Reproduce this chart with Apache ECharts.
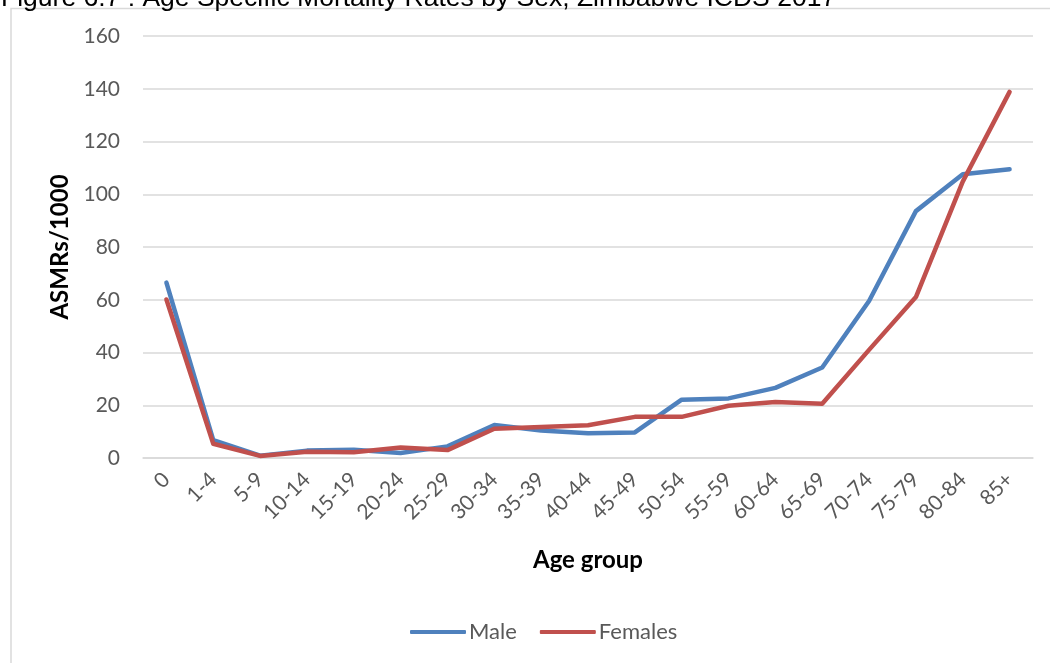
<!DOCTYPE html>
<html>
<head>
<meta charset="utf-8">
<script src="https://cdn.jsdelivr.net/npm/echarts@6/dist/echarts.min.js"></script>
<style>
  html, body { margin: 0; padding: 0; background: #fff; }
  #chart { width: 1050px; height: 663px; }
</style>
</head>
<body>
<div id="chart"></div>
<script>
const titleText = 'Figure 6.7 : Age Specific Mortality Rates by Sex, Zimbabwe ICDS 2017';
const categories = ['0', '1-4', '5-9', '10-14', '15-19', '20-24', '25-29', '30-34', '35-39', '40-44',
  '45-49', '50-54', '55-59', '60-64', '65-69', '70-74', '75-79', '80-84', '85+'];
const maleValues = [66.5, 6.8, 0.9, 2.8, 3.1, 1.9, 4.4, 12.5, 10.4, 9.4,
  9.7, 22.1, 22.6, 26.6, 34.3, 59.5, 93.6, 107.6, 109.5];
const femaleValues = [60.1, 5.4, 0.8, 2.4, 2.2, 4.0, 3.0, 11.1, 11.8, 12.4,
  15.6, 15.6, 19.8, 21.2, 20.6, 41.0, 61.0, 104.8, 138.8];
const yTicks = { min: 0, max: 160, interval: 20 };

const FONT = 'Lato';
const chart = echarts.init(document.getElementById('chart'), null, { renderer: 'canvas' });
chart.setOption({
  backgroundColor: '#ffffff',
  animation: false,
  graphic: [
    {
      type: 'rect',
      shape: { x: 11, y: 8.5, width: 1200, height: 800 },
      style: { fill: 'none', stroke: '#d9d9d9', lineWidth: 1.5 },
      z: 0
    },
    {
      type: 'text',
      x: 1, y: -15,
      style: {
        text: titleText,
        font: '26.5px "Liberation Sans", Arial, sans-serif',
        fill: '#000000'
      },
      z: 1
    }
  ],
  grid: { left: 143, right: 17, top: 36, bottom: 205, containLabel: false },
  legend: {
    data: ['Male', 'Females'],
    left: 405,
    top: 616,
    itemWidth: 56,
    itemHeight: 4,
    itemGap: 23,
    icon: 'roundRect',
    textStyle: { fontFamily: FONT, fontSize: 22, color: '#595959', padding: [0, 0, 0, -2] }
  },
  xAxis: {
    type: 'category',
    data: categories,
    boundaryGap: true,
    name: 'Age group',
    nameLocation: 'middle',
    nameGap: 90,
    nameTextStyle: { fontFamily: FONT, fontSize: 24, fontWeight: 'bold', color: '#000000' },
    axisLine: { show: true, lineStyle: { color: '#d9d9d9', width: 1.5 } },
    axisTick: { show: false },
    axisLabel: { rotate: 45, margin: 18, fontFamily: FONT, fontSize: 21, color: '#595959', interval: 0 },
    splitLine: { show: false }
  },
  yAxis: {
    type: 'value',
    min: yTicks.min,
    max: yTicks.max,
    interval: yTicks.interval,
    name: 'ASMRs/1000',
    nameLocation: 'middle',
    nameGap: 67,
    nameRotate: 90,
    nameTextStyle: { fontFamily: FONT, fontSize: 24, fontWeight: 'bold', color: '#000000' },
    axisLine: { show: false },
    axisTick: { show: false },
    axisLabel: { margin: 23, fontFamily: FONT, fontSize: 21, color: '#595959' },
    splitLine: { lineStyle: { color: '#d9d9d9', width: 1.5 } }
  },
  series: [
    {
      name: 'Male',
      type: 'line',
      data: maleValues,
      showSymbol: false,
      symbol: 'none',
      color: '#4F81BD',
      lineStyle: { width: 4.5, color: '#4F81BD', cap: 'round', join: 'round' },
      z: 2
    },
    {
      name: 'Females',
      type: 'line',
      data: femaleValues,
      showSymbol: false,
      symbol: 'none',
      color: '#C0504D',
      lineStyle: { width: 4.5, color: '#C0504D', cap: 'round', join: 'round' },
      z: 3
    }
  ]
});
</script>
</body>
</html>
